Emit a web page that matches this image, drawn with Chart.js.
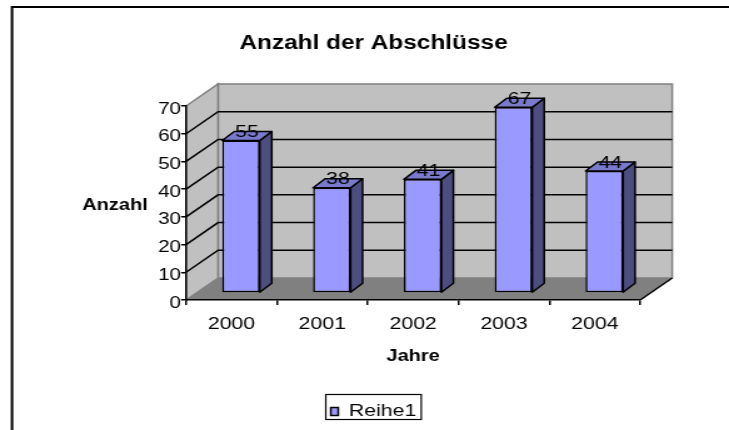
<!DOCTYPE html>
<html>
<head>
<meta charset="utf-8">
<title>Anzahl der Abschlüsse</title>
<script src="https://cdn.jsdelivr.net/npm/chart.js@4.4.1/dist/chart.umd.min.js"></script>
<style>
  html, body { margin: 0; padding: 0; background: #fff; overflow: hidden; }
</style>
</head>
<body>
<!-- the original picture is stretched sideways, so the canvas is stretched the same way -->
<canvas id="chart" width="583" height="430" style="display:block;width:729px;height:430px"></canvas>
<script>
const jahre = ['2000', '2001', '2002', '2003', '2004'];
const anzahl = [55, 38, 41, 67, 44];
const serieName = 'Reihe1';
const yMin = 0;
const yMax = 70;
const yStep = 10;

const FONT = "'Liberation Sans', Arial, sans-serif";
Chart.defaults.font.family = FONT;
Chart.defaults.color = '#000';

// depth of the 3D box and of the bars, in canvas px
const WALL_DX = 25.6, WALL_DY = -22;
const BAR_SHIFT_X = 7.6, BAR_SHIFT_Y = -7;
const BAR_DX = 9.6, BAR_DY = -9;

const poly = (ctx, pts) => {
  ctx.beginPath();
  ctx.moveTo(pts[0][0], pts[0][1]);
  pts.slice(1).forEach(p => ctx.lineTo(p[0], p[1]));
  ctx.closePath();
};

const excel3d = {
  id: 'excel3d',
  beforeDraw(chart) {
    const { ctx } = chart;
    const xs = chart.scales.x, ys = chart.scales.y;
    const l = xs.left, r = xs.right;
    const y0 = ys.getPixelForValue(yMin), yt = ys.getPixelForValue(yMax);
    ctx.save();
    ctx.lineWidth = 1.5;

    // back wall
    ctx.fillStyle = '#C0C0C0';
    ctx.strokeStyle = '#808080';
    ctx.fillRect(l + WALL_DX, yt + WALL_DY, r - l, y0 - yt);
    ctx.strokeRect(l + WALL_DX, yt + WALL_DY, r - l, y0 - yt);

    // left side wall
    poly(ctx, [[l, y0], [l, yt], [l + WALL_DX, yt + WALL_DY], [l + WALL_DX, y0 + WALL_DY]]);
    ctx.fill();
    ctx.stroke();

    // floor
    ctx.fillStyle = '#808080';
    poly(ctx, [[l, y0], [r, y0], [r + WALL_DX, y0 + WALL_DY], [l + WALL_DX, y0 + WALL_DY]]);
    ctx.fill();
    ctx.strokeStyle = '#000';
    ctx.beginPath();
    ctx.moveTo(r, y0);
    ctx.lineTo(r + WALL_DX, y0 + WALL_DY);
    ctx.stroke();

    // gridlines on side and back wall
    ys.ticks.forEach(t => {
      if (t.value <= yMin || t.value >= yMax) return;
      const py = ys.getPixelForValue(t.value);
      ctx.beginPath();
      ctx.moveTo(l, py);
      ctx.lineTo(l + WALL_DX, py + WALL_DY);
      ctx.lineTo(r + WALL_DX, py + WALL_DY);
      ctx.stroke();
    });

    // y axis title, written level like in the original
    ctx.fillStyle = '#000';
    ctx.font = 'bold 16px ' + FONT;
    ctx.textAlign = 'center';
    ctx.textBaseline = 'middle';
    ctx.fillText('Anzahl', 92, 206);
    ctx.restore();
  },
  beforeDatasetsDraw(chart) {
    chart.ctx.save();
    chart.ctx.translate(BAR_SHIFT_X, BAR_SHIFT_Y);
  },
  afterDatasetsDraw(chart) {
    const { ctx } = chart;
    ctx.restore();
    const meta = chart.getDatasetMeta(0);
    const values = chart.data.datasets[0].data;
    ctx.save();
    ctx.lineWidth = 1.5;
    ctx.strokeStyle = '#000';
    ctx.lineJoin = 'round';
    meta.data.forEach((bar, i) => {
      const { x, y, base, width } = bar.getProps(['x', 'y', 'base', 'width'], true);
      const left = x - width / 2 + BAR_SHIFT_X;
      const right = x + width / 2 + BAR_SHIFT_X;
      const top = y + BAR_SHIFT_Y;
      const bottom = base + BAR_SHIFT_Y;

      ctx.fillStyle = '#4D4D80';
      poly(ctx, [[right, top], [right + BAR_DX, top + BAR_DY], [right + BAR_DX, bottom + BAR_DY], [right, bottom]]);
      ctx.fill();
      ctx.stroke();

      ctx.fillStyle = '#7A7ACC';
      poly(ctx, [[left, top], [right, top], [right + BAR_DX, top + BAR_DY], [left + BAR_DX, top + BAR_DY]]);
      ctx.fill();
      ctx.stroke();

      ctx.fillStyle = '#000';
      ctx.font = '17px ' + FONT;
      ctx.textAlign = 'center';
      ctx.textBaseline = 'middle';
      ctx.fillText(String(values[i]), (left + right + BAR_DX) / 2, top + BAR_DY / 2 - 3.5);
    });
    ctx.restore();
  },
  afterDraw(chart) {
    const { ctx } = chart;
    ctx.save();
    ctx.strokeStyle = '#000';
    // frame round the legend
    const hb = chart.legend.legendHitBoxes[0];
    const cy = hb.top + hb.height / 2;
    ctx.lineWidth = 1.2;
    ctx.strokeRect(hb.left - 4, cy - 17, hb.width + 8, 25);
    // outer chart frame (runs off the picture on the right and bottom)
    ctx.lineWidth = 2;
    ctx.strokeRect(9.6, 7, 700, 500);
    ctx.restore();
  }
};

new Chart(document.getElementById('chart'), {
  type: 'bar',
  data: {
    labels: jahre,
    datasets: [{
      label: serieName,
      data: anzahl,
      backgroundColor: '#9999FF',
      borderColor: '#000',
      borderWidth: 1.5,
      borderSkipped: false,
      barPercentage: 0.413,
      categoryPercentage: 1,
      clip: false
    }]
  },
  options: {
    responsive: false,
    devicePixelRatio: 1,
    animation: false,
    events: [],
    layout: { padding: { left: 85.4, right: 71, top: 0, bottom: 0 } },
    plugins: {
      title: {
        display: true,
        text: 'Anzahl der Abschlüsse',
        color: '#000',
        font: { size: 19.5, weight: 'bold' },
        padding: { top: 32, bottom: 50.6 }
      },
      legend: {
        position: 'bottom',
        labels: { color: '#000', font: { size: 17 }, boxWidth: 6, boxHeight: 8, padding: 6 }
      },
      tooltip: { enabled: false }
    },
    scales: {
      x: {
        afterFit: s => { s.height = 97; },
        grid: { display: true, drawOnChartArea: false, drawTicks: true, tickLength: 5, color: '#000', lineWidth: 1.5, offset: true },
        border: { display: true, color: '#000', width: 1.5 },
        ticks: { color: '#000', font: { size: 17 }, padding: 9.3, autoSkip: false, maxRotation: 0 },
        title: { display: true, text: 'Jahre', color: '#000', font: { size: 16, weight: 'bold' }, padding: { top: 0, bottom: 30.9 } }
      },
      y: {
        min: yMin,
        max: yMax,
        afterFit: s => { s.width = 63.4; },
        grid: { display: true, drawOnChartArea: false, drawTicks: true, tickLength: 4, color: '#000', lineWidth: 1.5 },
        border: { display: true, color: '#000', width: 1.5 },
        ticks: { stepSize: yStep, color: '#000', font: { size: 16.5 }, padding: 0, labelOffset: 3, autoSkip: false }
      }
    }
  },
  plugins: [excel3d]
});
</script>
</body>
</html>
